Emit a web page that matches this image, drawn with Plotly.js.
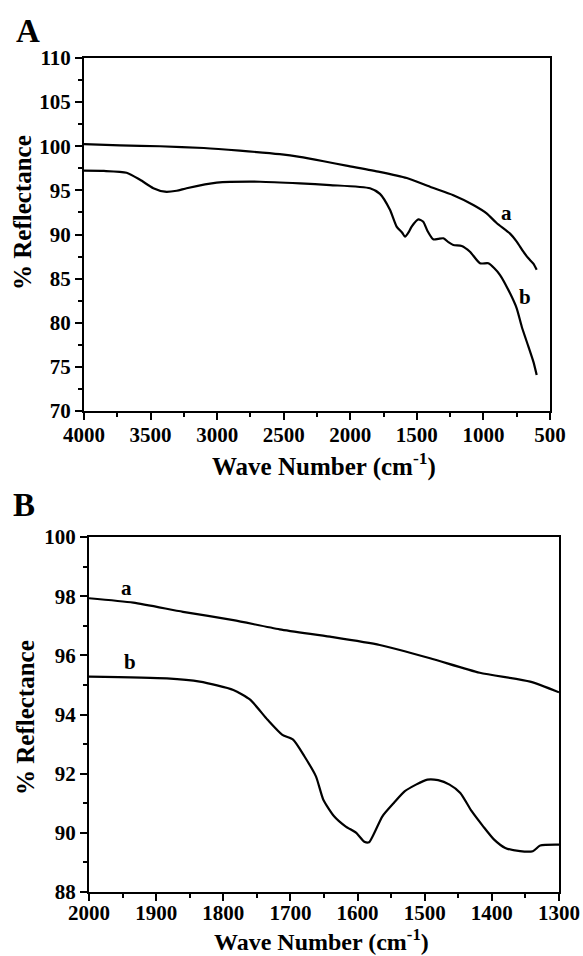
<!DOCTYPE html>
<html>
<head>
<meta charset="utf-8">
<script src="https://cdn.plot.ly/plotly-3.0.1.min.js"></script>
<style>html,body{margin:0;padding:0;background:#fff;}#chart{width:583px;height:956px;}</style>
</head>
<body>
<div id="chart"></div>
<script>
// Panel A (full range) — curve a
const wnAa = [4000, 3730, 3430, 3100, 2830, 2530, 2380, 2200, 2030, 1780, 1576, 1401, 1226, 1076, 976, 901, 800, 750, 700, 662, 625, 600];
const rAa  = [100.25, 100.1, 100.0, 99.8, 99.5, 99.1, 98.8, 98.3, 97.8, 97.1, 96.4, 95.4, 94.45, 93.35, 92.4, 91.3, 90.1, 89.2, 88.05, 87.3, 86.7, 86.0];
// Panel A — curve b
const wnAb = [4000, 3850, 3680, 3579, 3479, 3392, 3304, 3229, 3003, 2678, 2378, 2152, 1852, 1777, 1702, 1652, 1610, 1589, 1560, 1539, 1489, 1452, 1420, 1377, 1340, 1301, 1260, 1226, 1163, 1101, 1026, 963, 920, 875, 800, 750, 712, 662, 625, 600];
const rAb  = [97.23, 97.2, 97.0, 96.2, 95.25, 94.85, 94.96, 95.24, 95.87, 95.98, 95.8, 95.6, 95.24, 94.6, 92.8, 90.9, 90.2, 89.75, 90.3, 90.9, 91.72, 91.45, 90.4, 89.45, 89.5, 89.57, 89.1, 88.81, 88.7, 88.05, 86.74, 86.74, 86.2, 85.41, 83.33, 81.63, 79.55, 77.29, 75.59, 74.08];
// Panel B (zoomed 2000–1300) — curve a
const wnBa = [2000, 1934, 1860, 1785, 1716, 1641, 1567, 1492, 1418, 1343, 1300];
const rBa  = [97.93, 97.78, 97.47, 97.19, 96.88, 96.63, 96.35, 95.9, 95.41, 95.11, 94.75];
// Panel B — curve b
const wnBb = [2000, 1884, 1835, 1785, 1760, 1734, 1712, 1696, 1679, 1662, 1651, 1635, 1618, 1602, 1590, 1583, 1563, 1546, 1530, 1513, 1496, 1480, 1463, 1447, 1430, 1413, 1397, 1380, 1358, 1339, 1328, 1300];
const rBb  = [95.28, 95.22, 95.11, 94.83, 94.5, 93.82, 93.31, 93.15, 92.58, 91.91, 91.12, 90.56, 90.22, 90.0, 89.7, 89.68, 90.56, 91.01, 91.4, 91.63, 91.8, 91.78, 91.63, 91.35, 90.73, 90.22, 89.78, 89.49, 89.38, 89.38, 89.57, 89.6];

const W = 583, H = 956;
const FONT = 'Liberation Serif';
const line = {color: '#000', width: 2.2, shape: 'spline', smoothing: 0.6};

const traces = [
  {x: wnAa, y: rAa, xaxis: 'x', yaxis: 'y', mode: 'lines', line: line, name: 'a'},
  {x: wnAb, y: rAb, xaxis: 'x', yaxis: 'y', mode: 'lines', line: line, name: 'b'},
  {x: wnBa, y: rBa, xaxis: 'x2', yaxis: 'y2', mode: 'lines', line: line, name: 'a'},
  {x: wnBb, y: rBb, xaxis: 'x2', yaxis: 'y2', mode: 'lines', line: line, name: 'b'}
];

function ax(extra) {
  return Object.assign({
    showline: true, mirror: true, linecolor: '#000', linewidth: 2,
    showgrid: false, zeroline: false,
    ticks: 'outside', ticklen: 7, tickwidth: 2, tickcolor: '#000',
    tickfont: {family: FONT, size: 21, weight: 'bold', color: '#000'},
    fixedrange: true
  }, extra);
}

const px = v => v / W, py = v => 1 - v / H;

const layout = {
  width: W, height: H,
  margin: {l: 0, r: 0, t: 0, b: 0},
  paper_bgcolor: '#fff', plot_bgcolor: '#fff',
  font: {family: FONT, color: '#000'},
  showlegend: false,
  xaxis: ax({domain: [px(84), px(550)], range: [4000, 500], tickvals: [4000,3500,3000,2500,2000,1500,1000,500], ticklabelstandoff: -3,
             minor: {dtick: 250, ticklen: 4, tickwidth: 2, tickcolor: '#000', ticks: 'outside'}, anchor: 'y'}),
  yaxis: ax({domain: [py(411), py(58)], range: [70, 110], dtick: 5, tick0: 70,
             minor: {dtick: 2.5, ticklen: 4, tickwidth: 2, tickcolor: '#000', ticks: 'outside'}, anchor: 'x'}),
  xaxis2: ax({domain: [px(89), px(559)], range: [2000, 1300], dtick: 100, tick0: 1300, ticklabelstandoff: -6,
             minor: {dtick: 50, ticklen: 4, tickwidth: 2, tickcolor: '#000', ticks: 'outside'}, anchor: 'y2'}),
  yaxis2: ax({domain: [py(892), py(537)], range: [88, 100], dtick: 2, tick0: 88,
             minor: {dtick: 1, ticklen: 4, tickwidth: 2, tickcolor: '#000', ticks: 'outside'}, anchor: 'x2'}),
  annotations: [
    {text: '<b>A</b>', xref: 'paper', yref: 'paper', x: px(14), y: py(31), xanchor: 'left', yanchor: 'middle', showarrow: false, font: {family: FONT, size: 33, color: '#000'}},
    {text: '<b>B</b>', xref: 'paper', yref: 'paper', x: px(11), y: py(505), xanchor: 'left', yanchor: 'middle', showarrow: false, font: {family: FONT, size: 33, color: '#000'}},
    {text: '<b>Wave Number (cm<sup>-1</sup>)</b>', xref: 'paper', yref: 'paper', x: px(324), y: py(465), xanchor: 'center', yanchor: 'middle', showarrow: false, font: {family: FONT, size: 25, color: '#000'}},
    {text: '<b>Wave Number (cm<sup>-1</sup>)</b>', xref: 'paper', yref: 'paper', x: px(321), y: py(940), xanchor: 'center', yanchor: 'middle', showarrow: false, font: {family: FONT, size: 24, color: '#000'}},
    {text: '<b>% Reflectance</b>', xref: 'paper', yref: 'paper', x: px(22), y: py(213), xanchor: 'center', yanchor: 'middle', textangle: -90, showarrow: false, font: {family: FONT, size: 25, color: '#000'}},
    {text: '<b>% Reflectance</b>', xref: 'paper', yref: 'paper', x: px(25), y: py(718), xanchor: 'center', yanchor: 'middle', textangle: -90, showarrow: false, font: {family: FONT, size: 25, color: '#000'}},
    {text: '<b>a</b>', xref: 'x', yref: 'y', x: 825, y: 92.4, showarrow: false, font: {family: FONT, size: 21, color: '#000'}},
    {text: '<b>b</b>', xref: 'x', yref: 'y', x: 688, y: 82.95, showarrow: false, font: {family: FONT, size: 21, color: '#000'}},
    {text: '<b>a</b>', xref: 'x2', yref: 'y2', x: 1944, y: 98.27, showarrow: false, font: {family: FONT, size: 21, color: '#000'}},
    {text: '<b>b</b>', xref: 'x2', yref: 'y2', x: 1939, y: 95.78, showarrow: false, font: {family: FONT, size: 21, color: '#000'}}
  ]
};

Plotly.newPlot('chart', traces, layout, {staticPlot: true, displayModeBar: false});
</script>
</body>
</html>
